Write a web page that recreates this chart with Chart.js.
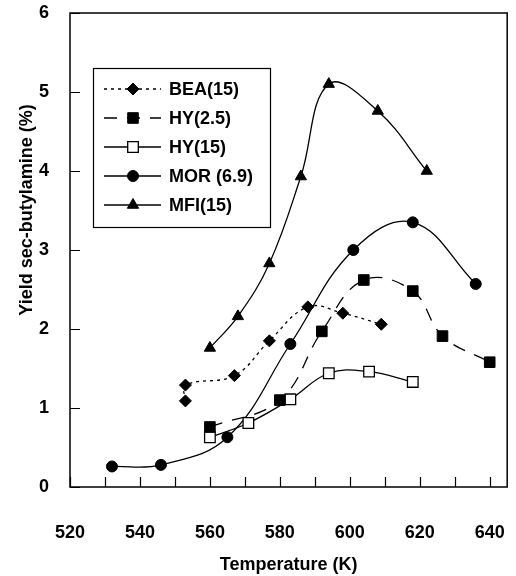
<!DOCTYPE html>
<html>
<head>
<meta charset="utf-8">
<script src="https://cdn.jsdelivr.net/npm/chart.js@4.4.0/dist/chart.umd.min.js"></script>
<style>
  html, body { margin: 0; padding: 0; background: #fff; }
  #wrap { width: 516px; height: 576px; }
</style>
</head>
<body>
<div id="wrap"><canvas id="yieldChart" width="516" height="576"></canvas></div>
<script>
// temperature (K) and yield (%) for each catalyst
const beaTemp  = [553, 553, 567, 577, 588, 598, 609];
const beaYield = [1.09, 1.29, 1.41, 1.85, 2.28, 2.2, 2.06];

const hy25Temp  = [560, 580, 592, 604, 618, 626.5, 640];
const hy25Yield = [0.76, 1.1, 1.97, 2.62, 2.48, 1.91, 1.58];

const hy15Temp  = [560, 571, 583, 594, 605.5, 618];
const hy15Yield = [0.63, 0.81, 1.11, 1.44, 1.46, 1.33];

const morTemp  = [532, 546, 565, 583, 601, 618, 636];
const morYield = [0.26, 0.28, 0.63, 1.81, 3.0, 3.35, 2.57];

const mfiTemp  = [560, 568, 577, 586, 594, 608, 622];
const mfiYield = [1.76, 2.16, 2.83, 3.93, 5.1, 4.76, 4.0];

const seriesNames = ['BEA(15)', 'HY(2.5)', 'HY(15)', 'MOR (6.9)', 'MFI(15)'];

const xTitle = 'Temperature (K)';
const yTitle = 'Yield sec-butylamine (%)';

const FONT = "'Liberation Sans', Arial, Helvetica, sans-serif";

function pairs(xs, ys) {
  return xs.map(function(x, i) { return { x: x, y: ys[i] }; });
}

function series(label, xs, ys, style) {
  return Object.assign({
    label: label,
    data: pairs(xs, ys),
    borderColor: '#000',
    backgroundColor: '#000',
    pointBackgroundColor: '#000',
    pointBorderColor: '#000',
    pointBorderWidth: 1,
    borderWidth: 1.3,
    tension: 0.4,
    showLine: true,
    borderDash: []
  }, style);
}

// keep the plot box where the layout padding puts it
function noEdgePadding(scale) {
  scale.paddingLeft = 0;
  scale.paddingRight = 0;
  scale.paddingTop = 0;
  scale.paddingBottom = 0;
}

// frame, inward tick marks and the two axis titles
const framePlugin = {
  id: 'frame',
  afterDraw: function(chart) {
    const ctx = chart.ctx;
    const a = chart.chartArea;
    const xs = chart.scales.x;
    const ys = chart.scales.y;
    ctx.save();
    ctx.strokeStyle = '#000';
    ctx.lineWidth = 1.5;
    ctx.strokeRect(a.left, a.top, a.right - a.left, a.bottom - a.top);

    ctx.lineWidth = 1.2;
    ctx.beginPath();
    xs.ticks.forEach(function(t) {
      const px = Math.round(xs.getPixelForValue(t.value)) + 0.5;
      ctx.moveTo(px, a.bottom);
      ctx.lineTo(px, a.bottom - 10);
    });
    ys.ticks.forEach(function(t) {
      const py = Math.round(ys.getPixelForValue(t.value)) + 0.5;
      ctx.moveTo(a.left, py);
      ctx.lineTo(a.left + 10, py);
    });
    ctx.stroke();

    ctx.fillStyle = '#000';
    ctx.font = 'bold 18px ' + FONT;
    ctx.textAlign = 'center';
    ctx.textBaseline = 'middle';
    ctx.fillText(xTitle, (a.left + a.right) / 2, 565);

    ctx.translate(27, 210);
    ctx.rotate(-Math.PI / 2);
    ctx.fillText(yTitle, 0, 0);
    ctx.restore();
  }
};

// boxed legend with line sample and marker per series
const boxLegend = {
  id: 'boxLegend',
  afterDraw: function(chart) {
    const ctx = chart.ctx;
    const box = { left: 93, top: 68, right: 270, bottom: 227 };
    ctx.save();
    ctx.strokeStyle = '#000';
    ctx.lineWidth = 1.2;
    ctx.strokeRect(box.left + 0.5, box.top + 0.5, box.right - box.left, box.bottom - box.top);

    chart.data.datasets.forEach(function(ds, i) {
      const y = 89 + i * 29;
      ctx.strokeStyle = ds.borderColor;
      ctx.lineWidth = ds.borderWidth;
      ctx.setLineDash(ds.borderDash || []);
      ctx.beginPath();
      ctx.moveTo(104, y);
      ctx.lineTo(161, y);
      ctx.stroke();
      ctx.setLineDash([]);

      ctx.fillStyle = ds.pointBackgroundColor;
      ctx.strokeStyle = ds.pointBorderColor;
      ctx.lineWidth = ds.pointBorderWidth;
      Chart.helpers.drawPoint(ctx, {
        pointStyle: ds.pointStyle,
        radius: ds.pointRadius,
        rotation: 0,
        borderWidth: ds.pointBorderWidth
      }, 133, y);

      ctx.fillStyle = '#000';
      ctx.font = 'bold 18px ' + FONT;
      ctx.textAlign = 'left';
      ctx.textBaseline = 'middle';
      ctx.fillText(ds.label, 169, y + 1);
    });
    ctx.restore();
  }
};

new Chart(document.getElementById('yieldChart'), {
  type: 'scatter',
  data: {
    datasets: [
      series(seriesNames[0], beaTemp, beaYield, { pointStyle: 'rectRot', pointRadius: 6, borderDash: [3, 4] }),
      series(seriesNames[1], hy25Temp, hy25Yield, { pointStyle: 'rect', pointRadius: 7.5, borderDash: [13, 10] }),
      series(seriesNames[2], hy15Temp, hy15Yield, { pointStyle: 'rect', pointRadius: 7.5, pointBackgroundColor: '#fff', pointBorderWidth: 1.3 }),
      series(seriesNames[3], morTemp, morYield, { pointStyle: 'circle', pointRadius: 5.5 }),
      series(seriesNames[4], mfiTemp, mfiYield, { pointStyle: 'triangle', pointRadius: 6.5 })
    ]
  },
  options: {
    responsive: false,
    devicePixelRatio: 1,
    animation: false,
    layout: { padding: { top: 13, right: 2, left: 0, bottom: 0 } },
    plugins: {
      legend: { display: false },
      tooltip: { enabled: false }
    },
    scales: {
      x: {
        type: 'linear',
        min: 520,
        max: 645,
        grid: { display: false },
        border: { display: false },
        ticks: {
          stepSize: 10,
          includeBounds: false,
          maxRotation: 0,
          autoSkip: false,
          padding: 27,
          color: '#000',
          font: { family: FONT, size: 18, weight: 'bold' },
          callback: function(v) { return v % 20 === 0 ? v : ''; }
        },
        afterFit: function(scale) { scale.height = 89; noEdgePadding(scale); }
      },
      y: {
        min: 0,
        max: 6,
        grid: { display: false },
        border: { display: false },
        ticks: {
          stepSize: 1,
          padding: 13,
          color: '#000',
          font: { family: FONT, size: 18, weight: 'bold' }
        },
        afterFit: function(scale) { scale.width = 70; noEdgePadding(scale); }
      }
    }
  },
  plugins: [framePlugin, boxLegend]
});
</script>
</body>
</html>
